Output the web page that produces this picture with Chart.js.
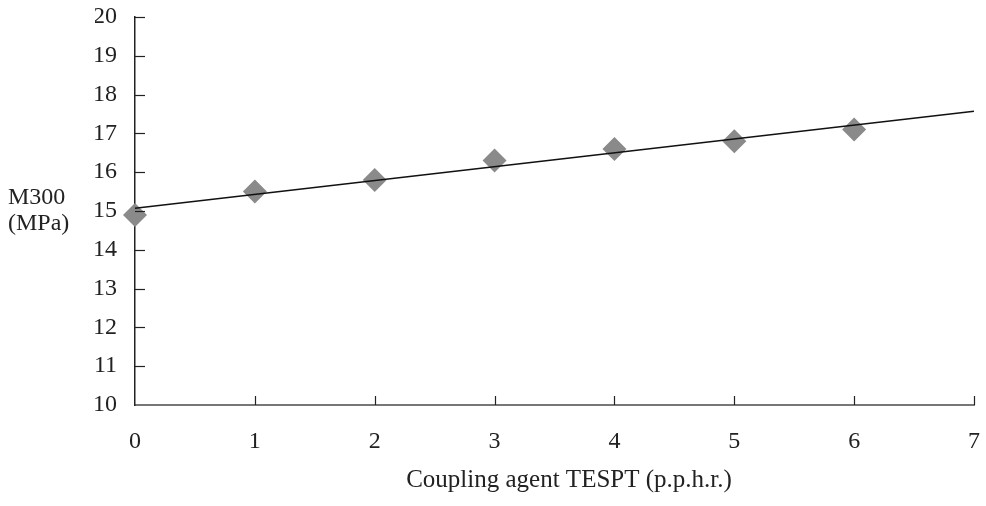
<!DOCTYPE html>
<html>
<head>
  <title>M300 vs coupling agent</title>
  <script src="https://cdn.jsdelivr.net/npm/chart.js"></script>
  <style>
    html, body { margin: 0; padding: 0; background: #fff; }
    #wrap { width: 986px; height: 506px; }
  </style>
</head>
<body>
  <div id="wrap">
    <canvas id="m300Chart" width="986" height="506"></canvas>
  </div>

  <script>
    // Data
    const tesptLevels = [0, 1, 2, 3, 4, 5, 6];
    const m300Values = [14.9, 15.5, 15.8, 16.3, 16.6, 16.8, 17.1];
    // linear trend line end points
    const trendX = [0, 7];
    const trendY = [15.07, 17.57];
    const yTitleLines = ['M300', '(MPa)'];
    const xTitle = 'Coupling agent TESPT (p.p.h.r.)';

    const fontFamily = "'Liberation Serif', 'Times New Roman', serif";

    // small tick marks drawn inside the plot, like the original
    const innerTicks = {
      id: 'innerTicks',
      afterDatasetsDraw(chart) {
        const ctx = chart.ctx;
        const xs = chart.scales.x;
        const ys = chart.scales.y;
        ctx.save();
        ctx.strokeStyle = '#222';
        ctx.lineWidth = 1.2;
        ys.ticks.forEach(t => {
          if (t.value === ys.min) return;
          const py = Math.round(ys.getPixelForValue(t.value)) + 0.5;
          ctx.beginPath();
          ctx.moveTo(xs.left, py);
          ctx.lineTo(xs.left + 10, py);
          ctx.stroke();
        });
        xs.ticks.forEach(t => {
          if (t.value === xs.min) return;
          const px = Math.round(xs.getPixelForValue(t.value)) + 0.5;
          ctx.beginPath();
          ctx.moveTo(px, ys.bottom);
          ctx.lineTo(px, ys.bottom - 9);
          ctx.stroke();
        });
        ctx.restore();
      }
    };

    // axis titles placed like in the source figure
    const axisTitles = {
      id: 'axisTitles',
      afterDraw(chart) {
        const ctx = chart.ctx;
        ctx.save();
        ctx.fillStyle = '#222';
        ctx.font = '24px ' + fontFamily;
        ctx.textBaseline = 'middle';
        ctx.textAlign = 'left';
        ctx.fillText(yTitleLines[0], 8, 198);
        ctx.fillText(yTitleLines[1], 8, 224);
        ctx.font = '25px ' + fontFamily;
        ctx.textAlign = 'center';
        ctx.fillText(xTitle, 569, 480);
        ctx.restore();
      }
    };

    const ctx = document.getElementById('m300Chart').getContext('2d');

    new Chart(ctx, {
      type: 'scatter',
      data: {
        datasets: [
          {
            type: 'line',
            label: 'Trend',
            data: trendX.map((x, i) => ({ x: x, y: trendY[i] })),
            borderColor: '#111',
            borderWidth: 1.5,
            pointRadius: 0,
            fill: false,
            clip: false,
            order: 0
          },
          {
            label: 'M300',
            data: tesptLevels.map((x, i) => ({ x: x, y: m300Values[i] })),
            pointStyle: 'rectRot',
            pointRadius: 12,
            pointHoverRadius: 12,
            backgroundColor: '#8a8a8a',
            borderColor: '#8a8a8a',
            borderWidth: 0,
            clip: false,
            order: 1
          }
        ]
      },
      options: {
        responsive: false,
        animation: false,
        layout: { padding: { left: 95, right: 7, top: 17, bottom: 0 } },
        plugins: {
          legend: { display: false },
          tooltip: { enabled: false }
        },
        scales: {
          x: {
            type: 'linear',
            min: 0,
            max: 7,
            grid: { display: false, drawTicks: false },
            border: { display: true, color: '#777', width: 2 },
            ticks: {
              stepSize: 1,
              padding: 22,
              color: '#222',
              font: { family: fontFamily, size: 24 }
            },
            afterFit(scale) {
              scale.height = 101;
              scale.paddingLeft = 0;
              scale.paddingRight = 0;
            }
          },
          y: {
            min: 10,
            max: 20,
            grid: { display: false, drawTicks: false },
            border: { display: true, color: '#222', width: 1.5 },
            ticks: {
              stepSize: 1,
              padding: 18,
              color: '#222',
              font: { family: fontFamily, size: 24 }
            },
            afterFit(scale) {
              scale.width = 40;
              scale.paddingTop = 0;
              scale.paddingBottom = 0;
            }
          }
        }
      },
      plugins: [innerTicks, axisTitles]
    });
  </script>
</body>
</html>
